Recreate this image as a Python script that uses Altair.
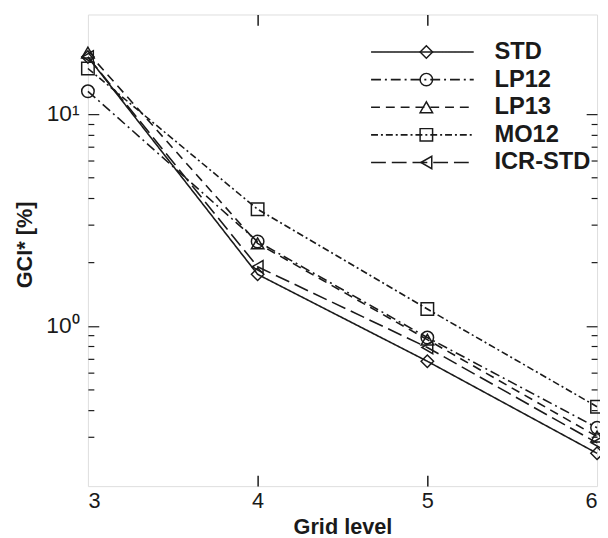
import altair as alt
import pandas as pd

grid_levels = [3, 4, 5, 6]
series_names = ["STD", "LP12", "LP13", "MO12", "ICR-STD"]
std_vals = [18.6, 1.75, 0.68, 0.25]
lp12_vals = [12.8, 2.5, 0.88, 0.33]
lp13_vals = [19.5, 2.45, 0.86, 0.30]
mo12_vals = [16.4, 3.55, 1.2, 0.415]
icr_vals = [18.6, 1.9, 0.79, 0.28]

all_vals = [std_vals, lp12_vals, lp13_vals, mo12_vals, icr_vals]
rows = []
for name, vals in zip(series_names, all_vals):
    for g, v in zip(grid_levels, vals):
        rows.append({"grid": g, "gci": v, "series": name, "series_m": name})
df = pd.DataFrame(rows)

dashes = [[1, 0], [10, 4, 2, 4], [9, 6], [7, 3, 2, 3], [15, 6]]
shapes = ["diamond", "circle", "triangle-up", "square", "triangle-left"]

FONT = "Liberation Sans"
INK = "#1a1a1a"
W, H = 516, 478

xs = alt.Scale(domain=[3, 6], nice=False, zero=False)
ys = alt.Scale(type="log", domain=[0.175, 29.5], nice=False)

minor_y = [0.3, 0.4, 0.5, 0.6, 0.7, 0.8, 0.9, 1, 2, 3, 4, 5, 6, 7, 8, 9, 10]
tick_cond = {"condition": {"test": "datum.value == 1 || datum.value == 10", "value": 11}, "value": 6}

base = alt.Chart(df)

lines = base.mark_line(color=INK, strokeWidth=1.6).encode(
    x=alt.X("grid:Q", scale=xs, axis=alt.Axis(
        orient="bottom", values=grid_levels, format="d", domain=False, ticks=False, grid=False,
        labelFont=FONT, labelFontSize=22, labelColor=INK, labelPadding=5,
        title="Grid level", titleFont=FONT, titleFontSize=22, titleFontWeight="bold",
        titleColor=INK, titleY=48, titleBaseline="alphabetic")),
    y=alt.Y("gci:Q", scale=ys, axis=alt.Axis(
        orient="left", values=[1, 10], domain=False, ticks=False, grid=False,
        labelExpr="datum.value == 10 ? '10¹' : (datum.value == 1 ? '10⁰' : '')",
        labelFont=FONT, labelFontSize=23, labelColor=INK, labelPadding=9,
        title="GCI* [%]", titleFont=FONT, titleFontSize=22, titleFontWeight="bold",
        titleColor=INK, titleX=-64, titleY=233, titleAngle=-90,
        titleAlign="center", titleBaseline="middle")),
    strokeDash=alt.StrokeDash("series:N", scale=alt.Scale(domain=series_names, range=dashes),
        sort=series_names,
        legend=alt.Legend(orient="none", legendX=327, legendY=26, title=None,
            symbolType="M-5,0L5,0", symbolSize=433, symbolStrokeWidth=1.6,
            symbolStrokeColor=INK, symbolFillColor="transparent",
            labelFont=FONT, labelFontSize=24, labelFontWeight="bold", labelColor=INK,
            labelOffset=61, rowPadding=4, padding=0)),
    order="grid:Q",
)

points = base.mark_point(filled=False, size=160, strokeWidth=1.5, color=INK, opacity=1).encode(
    x=alt.X("grid:Q", scale=xs, axis=alt.Axis(
        orient="top", offset=-H, values=[4, 5], labels=False, domain=False, grid=False,
        ticks=True, tickSize=11, tickColor=INK, tickWidth=1.5, title=None)),
    y=alt.Y("gci:Q", scale=ys, axis=alt.Axis(
        orient="right", offset=-W, values=minor_y, labels=False, domain=False, grid=False,
        ticks=True, tickSize=tick_cond, tickColor=INK, tickWidth=1.2, title=None)),
    shape=alt.Shape("series_m:N", scale=alt.Scale(domain=series_names, range=shapes),
        sort=series_names,
        legend=alt.Legend(orient="none", legendX=331, legendY=26, title=None,
            symbolSize=160, symbolStrokeWidth=1.5, symbolStrokeColor=INK,
            symbolFillColor="transparent", labelExpr="' '",
            labelFont=FONT, labelFontSize=24, labelFontWeight="bold", labelOpacity=0,
            labelOffset=61, rowPadding=4, padding=0)),
)

frame_ticks = base.mark_point(opacity=0).encode(
    x=alt.X("grid:Q", scale=xs, axis=alt.Axis(
        orient="bottom", offset=-H, values=[4, 5], labels=False, domain=False, grid=False,
        ticks=True, tickSize=11, tickColor=INK, tickWidth=1.5, title=None)),
    y=alt.Y("gci:Q", scale=ys, axis=alt.Axis(
        orient="left", offset=-W, values=minor_y, labels=False, domain=False, grid=False,
        ticks=True, tickSize=tick_cond, tickColor=INK, tickWidth=1.2, title=None)),
)

chart = alt.layer(lines, points, frame_ticks).resolve_axis(
    x="independent", y="independent"
).resolve_scale(
    shape="independent", strokeDash="independent"
).properties(
    width=W, height=H,
    autosize=alt.AutoSizeParams(type="none"),
    padding={"left": 81, "top": 3, "right": 3, "bottom": 49},
).configure_view(
    stroke=INK, strokeWidth=2
).configure(background="white")

chart.save("out.html", embed_options={"renderer": "svg", "actions": False})
